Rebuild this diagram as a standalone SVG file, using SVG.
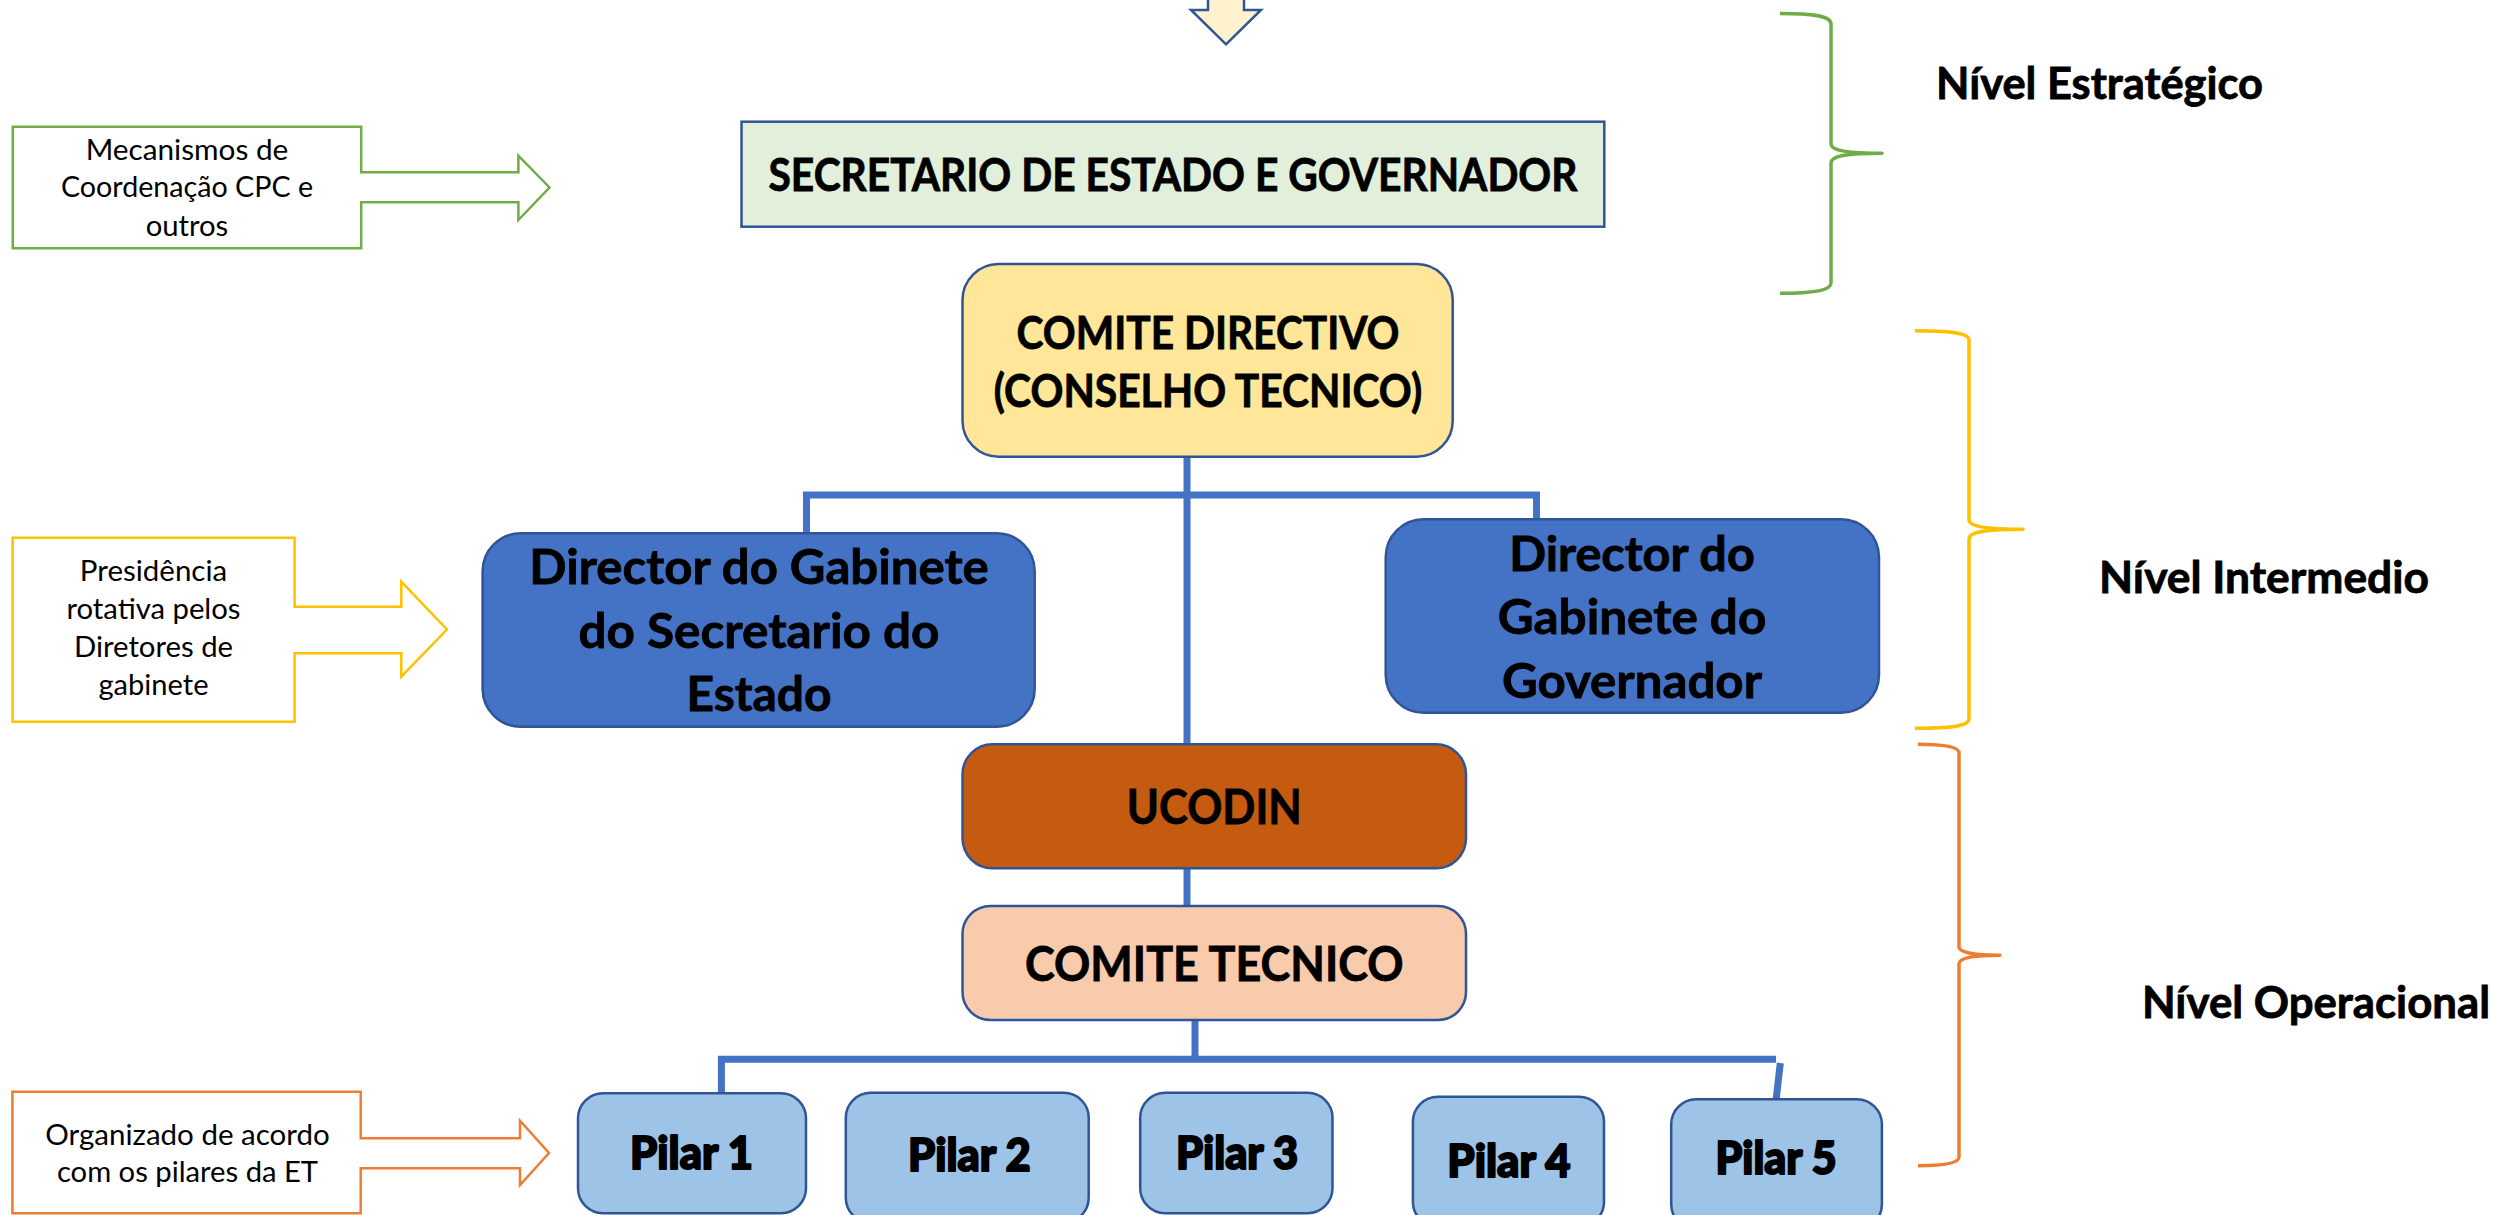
<svg xmlns="http://www.w3.org/2000/svg" width="2504" height="1215" viewBox="0 0 2504 1215">
<style>
  .box { stroke: #2F5597; stroke-width: 2.5; }
  .t { font-family: Lato, "Liberation Sans", sans-serif; fill: #000; text-anchor: middle; }
  .b { font-weight: bold; stroke: #000; stroke-width: 0.8; }
  .k { font-weight: 900; stroke: #000; stroke-width: 2; stroke-linejoin: round; }
  .conn { fill: none; stroke: #4472C4; stroke-width: 7; stroke-linejoin: miter; stroke-linecap: butt; }
  .brace { fill: none; stroke-width: 3.5; stroke-linejoin: round; }
  .callout { fill: #FFFFFF; stroke-width: 2.5; }
</style>
<rect width="2504" height="1215" fill="#FFFFFF"/>

<g id="connectors">
  <path class="conn" d="M1187,456 V744"/>
  <path class="conn" d="M806.5,533 V495 H1536.5 V519"/>
  <path class="conn" d="M1187,868 V906"/>
  <path class="conn" d="M1195,1020 V1059.3"/>
  <path class="conn" d="M721.4,1093 V1059.3 H1776"/>
  <path class="conn" d="M1780.3,1063 L1776.2,1099"/>
</g>

<g id="top-arrow">
  <path d="M1208,-5 V10 H1191 L1226,44.3 L1261,10 H1244 V-5 Z" fill="#FFF2CC" stroke="#2F5597" stroke-width="2.5"/>
</g>

<g id="secretario">
  <rect class="box" x="741.5" y="121.7" width="862.8" height="105" fill="#E2EFDA"/>
  <text class="t b" x="1173" y="191" font-size="45" textLength="809" lengthAdjust="spacingAndGlyphs">SECRETARIO DE ESTADO E GOVERNADOR</text>
</g>

<g id="comite-directivo">
  <rect class="box" x="962.5" y="264" width="490.2" height="192.7" rx="36" fill="#FFE699"/>
  <text class="t b" x="1208" y="349" font-size="45" textLength="383" lengthAdjust="spacingAndGlyphs">COMITE DIRECTIVO</text>
  <text class="t b" x="1208" y="406.5" font-size="45" textLength="428.5" lengthAdjust="spacingAndGlyphs">(CONSELHO TECNICO)</text>
</g>

<g id="director-secretario">
  <rect class="box" x="482.6" y="533.3" width="552.1" height="193.4" rx="38" fill="#4472C4"/>
  <text class="t b" x="759" y="584" font-size="48" textLength="459.5" lengthAdjust="spacingAndGlyphs">Director do Gabinete</text>
  <text class="t b" x="759" y="647.5" font-size="48" textLength="361" lengthAdjust="spacingAndGlyphs">do Secretario do</text>
  <text class="t b" x="759" y="711" font-size="48" textLength="145" lengthAdjust="spacingAndGlyphs">Estado</text>
</g>

<g id="director-governador">
  <rect class="box" x="1385.7" y="519.3" width="493.3" height="193.4" rx="38" fill="#4472C4"/>
  <text class="t b" x="1632" y="570.5" font-size="47" textLength="245.6" lengthAdjust="spacingAndGlyphs">Director do</text>
  <text class="t b" x="1632" y="634" font-size="47" textLength="268.7" lengthAdjust="spacingAndGlyphs">Gabinete do</text>
  <text class="t b" x="1632" y="697.5" font-size="47" textLength="260" lengthAdjust="spacingAndGlyphs">Governador</text>
</g>

<g id="ucodin">
  <rect class="box" x="962.5" y="744.3" width="503.5" height="124" rx="30" fill="#C55A11"/>
  <text class="t b" x="1214.3" y="824" font-size="47" textLength="175" lengthAdjust="spacingAndGlyphs">UCODIN</text>
</g>

<g id="comite-tecnico">
  <rect class="box" x="962.5" y="906" width="503.5" height="114" rx="28" fill="#F8CBAD"/>
  <text class="t b" x="1214.3" y="980.5" font-size="47" textLength="378.6" lengthAdjust="spacingAndGlyphs">COMITE TECNICO</text>
</g>

<g id="pilar-1">
  <rect class="box" x="578" y="1093.3" width="228" height="120" rx="25" fill="#9DC3E6"/>
  <text class="t k" x="691.5" y="1169.3" font-size="45" textLength="123" lengthAdjust="spacingAndGlyphs">Pilar 1</text>
</g>
<g id="pilar-2">
  <rect class="box" x="845.8" y="1092.7" width="242.9" height="130" rx="25" fill="#9DC3E6"/>
  <text class="t k" x="969.3" y="1170.7" font-size="45" textLength="122.7" lengthAdjust="spacingAndGlyphs">Pilar 2</text>
</g>
<g id="pilar-3">
  <rect class="box" x="1140.2" y="1092.7" width="192.3" height="120.6" rx="25" fill="#9DC3E6"/>
  <text class="t k" x="1237" y="1169.3" font-size="45" textLength="122.2" lengthAdjust="spacingAndGlyphs">Pilar 3</text>
</g>
<g id="pilar-4">
  <rect class="box" x="1412.9" y="1096.7" width="191.1" height="130" rx="25" fill="#9DC3E6"/>
  <text class="t k" x="1509" y="1176.7" font-size="45" textLength="123.4" lengthAdjust="spacingAndGlyphs">Pilar 4</text>
</g>
<g id="pilar-5">
  <rect class="box" x="1671.2" y="1099.3" width="210.7" height="130" rx="25" fill="#9DC3E6"/>
  <text class="t k" x="1776" y="1174" font-size="45" textLength="121" lengthAdjust="spacingAndGlyphs">Pilar 5</text>
</g>

<g id="callout-coordenacao">
  <path class="callout" stroke="#70AD47" d="M12.8,126.7 H361.2 V172.3 H518.4 V155.7 L549.5,187.5 L518.4,220 V202.3 H361.2 V248.3 H12.8 Z"/>
  <text class="t" x="187" y="160" font-size="28" textLength="202.6" lengthAdjust="spacingAndGlyphs">Mecanismos de</text>
  <text class="t" x="187" y="197.3" font-size="28" textLength="252" lengthAdjust="spacingAndGlyphs">Coordenação CPC e</text>
  <text class="t" x="187" y="235.5" font-size="28" textLength="82.6" lengthAdjust="spacingAndGlyphs">outros</text>
</g>

<g id="callout-presidencia">
  <path class="callout" stroke="#FFC000" d="M12.6,537.7 H294.6 V606.7 H401.3 V581.7 L446.9,629.5 L401.3,676.7 V653.3 H294.6 V721.7 H12.6 Z"/>
  <text class="t" x="153.5" y="581" font-size="28" textLength="147.3" lengthAdjust="spacingAndGlyphs">Presidência</text>
  <text class="t" x="153.5" y="619" font-size="28" textLength="174" lengthAdjust="spacingAndGlyphs">rotativa pelos</text>
  <text class="t" x="153.5" y="657" font-size="28" textLength="159.2" lengthAdjust="spacingAndGlyphs">Diretores de</text>
  <text class="t" x="153.5" y="695" font-size="28" textLength="110" lengthAdjust="spacingAndGlyphs">gabinete</text>
</g>

<g id="callout-pilares">
  <path class="callout" stroke="#ED7D31" d="M12.4,1091.7 H360.7 V1138.3 H520 V1120.7 L549,1153 L520,1185 V1168.3 H360.7 V1213.3 H12.4 Z"/>
  <text class="t" x="187.5" y="1145" font-size="28" textLength="284.4" lengthAdjust="spacingAndGlyphs">Organizado de acordo</text>
  <text class="t" x="187.5" y="1181.7" font-size="28" textLength="261.2" lengthAdjust="spacingAndGlyphs">com os pilares da ET</text>
</g>

<g id="nivel-estrategico">
  <path class="brace" stroke="#70AD47" d="M1780,13.5 C1815,13.5 1831,16 1831,24 L1831,144 C1831,150 1845,153.3 1882,153.3 C1845,153.3 1831,156 1831,163 L1831,283 C1831,290 1815,293.3 1780,293.3"/>
  <text class="t b" x="2099.5" y="99" font-size="44" textLength="327" lengthAdjust="spacingAndGlyphs">Nível Estratégico</text>
</g>

<g id="nivel-intermedio">
  <path class="brace" stroke="#FFC000" d="M1915,330.7 C1952,330.7 1969,333 1969,340 L1969,520 C1969,526 1985,529.3 2023,529.3 C1985,529.3 1969,532 1969,539 L1969,719 C1969,726 1952,728.3 1915,728.3"/>
  <text class="t b" x="2264" y="593" font-size="44" textLength="330" lengthAdjust="spacingAndGlyphs">Nível Intermedio</text>
</g>

<g id="nivel-operacional">
  <path class="brace" stroke="#ED7D31" d="M1918,744.3 C1945,744.3 1959,747 1959,753 L1959,947 C1959,952 1972,955.3 2000,955.3 C1972,955.3 1959,958 1959,964 L1959,1157 C1959,1163 1945,1165.7 1918,1165.7"/>
  <text class="t b" x="2316" y="1017.5" font-size="44" textLength="348" lengthAdjust="spacingAndGlyphs">Nível Operacional</text>
</g>
</svg>
